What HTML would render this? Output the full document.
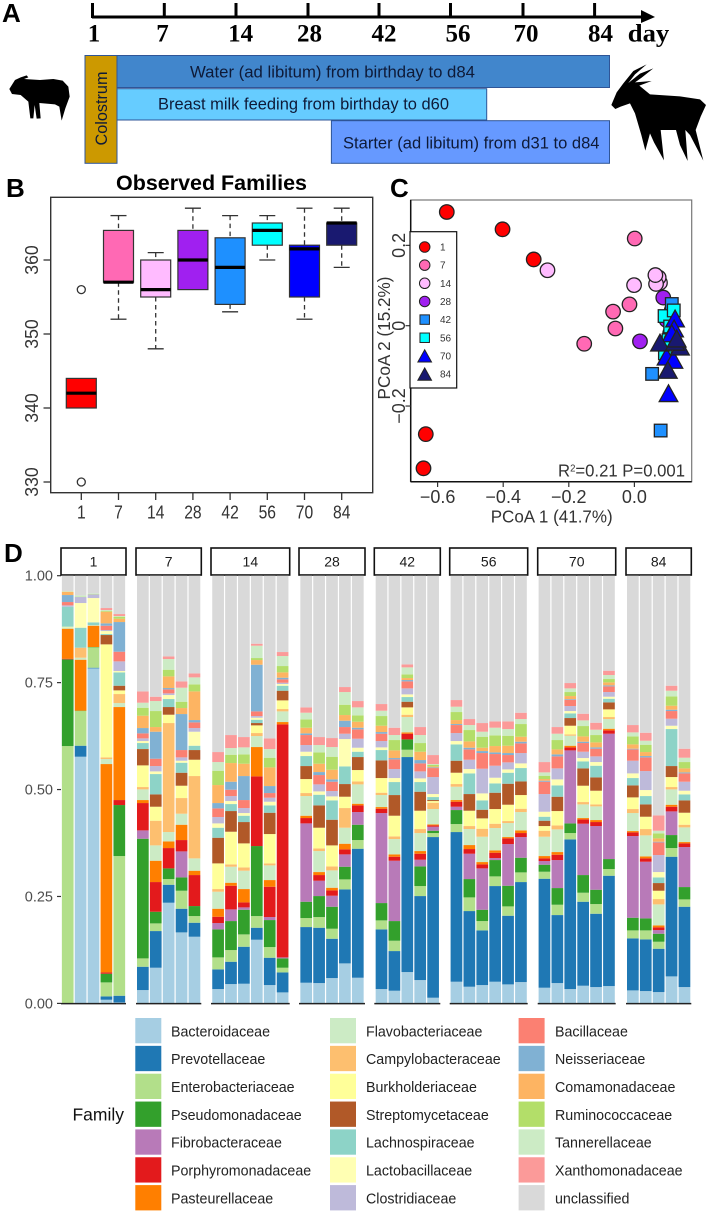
<!DOCTYPE html>
<html lang="en">
<head>
<meta charset="utf-8">
<title>Observed Families figure</title>
<style>
html,body{margin:0;padding:0;background:#fff;}
svg{display:block;}
text{font-family:"Liberation Sans",sans-serif;}
.serif{font-family:"Liberation Serif",serif;font-weight:bold;fill:#000;font-size:25px;text-anchor:middle;}
.panel{font-weight:bold;font-size:26px;fill:#000;}
.feed{font-size:17px;fill:#0e1a38;}
</style>
</head>
<body>
<svg id="fig" xmlns="http://www.w3.org/2000/svg" width="708" height="1212" viewBox="0 0 708 1212">
  <rect x="0" y="0" width="708" height="1212" fill="#fff"/>

  <!-- Panel A -->
  <text class="panel" x="2" y="22">A</text>
  <g>
    <line x1="92" y1="17" x2="643" y2="17" stroke="#000" stroke-width="3"/>
    <polygon points="641,10 655,17 641,23" fill="#000"/>
    <line x1="92.5" y1="3" x2="92.5" y2="18" stroke="#000" stroke-width="3"/>
    <line x1="164.3" y1="3" x2="164.3" y2="18" stroke="#000" stroke-width="3"/>
    <line x1="236" y1="3" x2="236" y2="18" stroke="#000" stroke-width="3"/>
    <line x1="308" y1="3" x2="308" y2="18" stroke="#000" stroke-width="3"/>
    <line x1="379" y1="3" x2="379" y2="18" stroke="#000" stroke-width="3"/>
    <line x1="450.5" y1="3" x2="450.5" y2="18" stroke="#000" stroke-width="3"/>
    <line x1="523" y1="3" x2="523" y2="18" stroke="#000" stroke-width="3"/>
    <line x1="594.6" y1="3" x2="594.6" y2="18" stroke="#000" stroke-width="3"/>
    <text class="serif" x="94" y="41.5">1</text>
    <text class="serif" x="162.5" y="41.5">7</text>
    <text class="serif" x="240.6" y="41.5">14</text>
    <text class="serif" x="309.5" y="41.5">28</text>
    <text class="serif" x="384" y="41.5">42</text>
    <text class="serif" x="458" y="41.5">56</text>
    <text class="serif" x="526" y="41.5">70</text>
    <text class="serif" x="600.5" y="41.5">84</text>
    <text class="serif" x="648.5" y="41.5" textLength="41.5" lengthAdjust="spacingAndGlyphs">day</text>
  </g>
  <g>
    <rect x="117" y="55.5" width="492.5" height="32" fill="#4186cc" stroke="#2f5597" stroke-width="1"/>
    <rect x="117" y="88.7" width="369.7" height="31.3" fill="#66ccff" stroke="#2f5597" stroke-width="1"/>
    <rect x="331.4" y="120.7" width="278.1" height="42.6" fill="#6699ff" stroke="#2f5597" stroke-width="1"/>
    <rect x="85" y="55.5" width="32" height="107.8" fill="#cc9900" stroke="#2f5597" stroke-width="1"/>
    <text class="feed" transform="translate(101.5,108.5) rotate(-90)" text-anchor="middle" dominant-baseline="central" textLength="74" lengthAdjust="spacingAndGlyphs">Colostrum</text>
    <text class="feed" x="190" y="77.5" textLength="285" lengthAdjust="spacingAndGlyphs">Water (ad libitum) from birthday to d84</text>
    <text class="feed" x="158" y="109.5" textLength="291" lengthAdjust="spacingAndGlyphs">Breast milk feeding from birthday to d60</text>
    <text class="feed" x="343" y="148.5" textLength="256.5" lengthAdjust="spacingAndGlyphs">Starter (ad libitum) from d31 to d84</text>
  </g>
  <path transform="translate(0,65) scale(0.3333)" fill="#000" d="M28,72 L45,45 L62,37 L80,31 L85,37 L72,42 L120,45 L160,42 L188,47 L205,65 L209,95 L196,130 L185,167 L178,125 L165,118 L118,114 L122,160 L110,161 L104,120 L100,160 L91,160 L85,110 L62,90 L36,87 Z"/>
  <path transform="translate(600,55) scale(0.3333)" fill="#000" d="M34,150 L50,112 L70,85 L100,48 L140,28 L105,58 L85,84 L120,56 L160,40 L125,68 L105,82 L155,78 L118,92 L150,118 L240,124 L300,133 L318,150 L302,185 L287,225 L310,317 L270,240 L256,225 L263,318 L240,270 L228,225 L182,225 L192,316 L162,262 L150,235 L136,287 L124,240 L105,175 L90,145 L62,155 L46,162 Z"/>

  <!-- Panel B -->
  <text class="panel" x="6" y="197">B</text>
  <text x="116" y="190" font-size="21" font-weight="bold" fill="#000" textLength="191" lengthAdjust="spacingAndGlyphs">Observed Families</text>
  <rect x="50.7" y="197.3" width="322" height="295.4" fill="none" stroke="#333" stroke-width="1.4"/>
  <g id="boxplot"></g>

  <!-- Panel C -->
  <text class="panel" x="390" y="197">C</text>
  <rect x="410.7" y="200" width="281" height="281.7" fill="none" stroke="#777" stroke-width="1.2"/>
  <line x1="410.7" y1="200" x2="410.7" y2="481.7" stroke="#111" stroke-width="1.5"/>
  <line x1="410.7" y1="481.7" x2="691.7" y2="481.7" stroke="#111" stroke-width="1.5"/>
  <g id="pcoa"></g>
  <text x="551.7" y="522.5" text-anchor="middle" font-size="17.5" fill="#333" textLength="122" lengthAdjust="spacingAndGlyphs">PCoA 1 (41.7%)</text>
  <text transform="translate(384,338) rotate(-90)" text-anchor="middle" dominant-baseline="central" font-size="17.5" fill="#333" textLength="123" lengthAdjust="spacingAndGlyphs">PCoA 2 (15.2%)</text>
  <text x="558" y="476.5" font-size="17.5" fill="#333" textLength="127" lengthAdjust="spacingAndGlyphs">R<tspan font-size="10" dy="-5">2</tspan><tspan dy="5">=0.21 P=0.001</tspan></text>
  <g>
    <rect x="410" y="231.7" width="46.7" height="156.3" fill="#fff" stroke="#111" stroke-width="1.2"/>
    <g id="pcoaLegend"></g>
  </g>

  <!-- Panel D -->
  <text class="panel" x="4" y="562">D</text>
  <g id="stack"></g>
  <text x="72.5" y="1120.5" font-size="17.5" fill="#111" textLength="51.5" lengthAdjust="spacingAndGlyphs">Family</text>
  <g id="famLegend"></g>
</svg>
<script>
/* ---------- Panel B data ---------- */
const boxDays = ["1","7","14","28","42","56","70","84"];
const boxLow = [340,352,348,356,353,360,352,359];
const boxQ1 = [340,357,355,356,354,362,355,362];
const boxMedian = [342,357,356,360,359,364,361.5,365];
const boxQ3 = [344,364,360,364,363,365,362,365];
const boxHigh = [344,366,361,367,366,366,367,367];
const boxOutliers = [[356,330],[],[],[],[],[],[],[]];
const boxYTicks = [330,340,350,360];
const dayColors = ["#ff0000","#ff69b4","#ffbbff","#a020f0","#1e90ff","#00ffff","#0000ff","#191970"];

/* ---------- Panel C data ---------- */
const pcoaXTicks = [-0.6,-0.4,-0.2,0.0];
const pcoaXTickLabels = ["\u22120.6","\u22120.4","\u22120.2","0.0"];
const pcoaYTicks = [0.2,0,-0.2];
const pcoaYTickLabels = ["0.2","0","\u22120.2"];
const pcoaX1 = [-0.572,-0.402,-0.307,-0.636,-0.643];
const pcoaY1 = [0.283,0.240,0.165,-0.270,-0.355];
const pcoaX7 = [0.001,-0.015,-0.065,-0.058,-0.153];
const pcoaY7 = [0.217,0.053,0.035,-0.007,-0.045];
const pcoaX14 = [-0.265,-0.001,0.078,0.074,0.066,0.064];
const pcoaY14 = [0.138,0.101,0.107,0.120,0.104,0.126];
const pcoaX28 = [0.088,0.017,0.114,0.098,0.109];
const pcoaY28 = [0.070,-0.039,0.039,0.014,-0.019];
const pcoaX42 = [0.114,0.054,0.080,0.109,0.098];
const pcoaY42 = [0.054,-0.120,-0.261,0.022,-0.044];
const pcoaX56 = [0.092,0.120,0.104,0.093,0.109];
const pcoaY56 = [0.024,0.038,-0.036,-0.069,-0.002];
const pcoaX70 = [0.104,0.124,0.121,0.114,0.098,0.119];
const pcoaY70 = [-0.168,0.018,-0.007,-0.019,-0.077,-0.085];
const pcoaX84 = [0.078,0.102,0.139,0.124,0.129];
const pcoaY84 = [-0.042,-0.110,-0.052,-0.040,-0.032];
const pcoaSeriesX = [pcoaX1,pcoaX7,pcoaX14,pcoaX28,pcoaX42,pcoaX56,pcoaX70,pcoaX84];
const pcoaSeriesY = [pcoaY1,pcoaY7,pcoaY14,pcoaY28,pcoaY42,pcoaY56,pcoaY70,pcoaY84];
const pcoaShapes = ["circle","circle","circle","circle","square","square","triangle","triangle"];

/* ---------- Panel D data ----------
   Readings per sample, bottom to top, in units where abundanceFull = 1.00.
   The grey "unclassified" segment is the remainder. */
const abundanceFull = 1283;
const stackTicks = [0,0.25,0.5,0.75,1];
const stackTickLabels = ["0.00","0.25","0.50","0.75","1.00"];
const families = ["Bacteroidaceae","Prevotellaceae","Enterobacteriaceae","Pseudomonadaceae","Fibrobacteraceae","Porphyromonadaceae","Pasteurellaceae","Flavobacteriaceae","Campylobacteraceae","Burkholderiaceae","Streptomycetaceae","Lachnospiraceae","Lactobacillaceae","Clostridiaceae","Bacillaceae","Neisseriaceae","Comamonadaceae","Ruminococcaceae","Tannerellaceae","Xanthomonadaceae","unclassified"];
const familyColors = ["#a6cee3","#1f78b4","#b2df8a","#33a02c","#b87ab8","#e31a1c","#ff7f00","#ccebc5","#fdbf6f","#ffff99","#b15928","#8dd3c7","#ffffb3","#bebada","#fb8072","#80b1d3","#fdb462","#b3de69","#ccebc5","#fb9a99","#d9d9d9"];
const facetLabels = ["1","7","14","28","42","56","70","84"];
const facet1 = [
 [0,0,772,260,0,2,90,4,0,2,0,60,0,4,10,21,10,0,2,0],
 [740,33,104,1,0,0,153,6,30,0,0,60,74,18,0,0,0,1,4,0],
 [1005,2,61,1,0,0,64,2,0,0,0,8,73,11,0,0,0,1,2,0],
 [11,10,42,26,0,4,625,15,5,339,28,3,9,3,13,7,35,2,3,6],
 [3,20,419,153,0,15,279,12,27,11,14,40,4,29,29,89,10,6,2,6]
];
const facet7 = [
 [40,70,25,359,25,82,9,32,7,65,49,18,6,8,15,16,37,24,15,34],
 [107,110,23,35,0,89,64,46,74,42,37,61,8,16,22,81,14,48,30,13],
 [302,54,17,32,0,61,20,28,327,25,23,24,12,5,12,4,35,20,32,8],
 [213,71,54,40,78,34,46,33,47,37,39,30,6,10,22,108,18,19,42,19],
 [200,42,20,30,0,93,13,37,247,49,29,13,42,11,17,7,86,21,21,12]
];
const facet14 = [
 [43,59,36,84,19,19,24,51,8,77,77,30,13,19,26,16,54,43,26,30],
 [58,67,35,87,35,71,9,48,7,98,62,21,9,15,19,24,56,25,20,39],
 [59,111,37,74,7,15,40,55,10,72,64,19,8,15,24,72,37,28,21,31],
 [191,36,35,210,0,209,88,33,9,23,7,10,6,5,14,140,14,6,37,6],
 [55,82,32,81,9,91,20,44,6,88,64,22,11,12,14,21,56,29,26,32],
 [33,60,14,28,3,699,7,32,7,26,29,15,5,4,10,5,16,19,30,12]
];
const facet28 = [
 [62,167,27,49,235,16,7,59,9,42,39,30,13,20,30,5,17,25,20,16],
 [61,166,32,63,46,17,9,63,8,62,67,32,10,21,28,9,25,34,22,24],
 [76,118,30,66,33,16,8,52,12,63,77,58,12,16,28,7,29,39,29,27],
 [120,222,30,38,37,15,17,48,59,34,38,53,82,16,20,19,17,31,38,15],
 [77,387,26,46,38,20,5,58,9,34,39,16,12,27,28,5,18,19,24,19]
];
const facet42 = [
 [43,179,27,52,270,13,5,36,7,44,53,31,8,19,22,5,19,29,16,20],
 [38,119,31,59,181,12,7,46,8,62,62,39,12,27,29,4,23,31,15,22],
 [94,645,22,31,0,17,4,46,7,22,17,14,8,18,21,4,6,11,21,9],
 [70,252,30,59,20,18,8,54,12,55,57,29,11,21,24,10,25,26,24,24],
 [17,482,12,7,12,4,3,46,19,5,3,9,9,51,27,2,3,5,2,27]
];
const facet56 = [
 [65,449,24,42,10,15,5,40,8,34,36,49,10,24,24,3,12,24,16,20],
 [50,227,41,55,76,14,12,48,9,46,50,62,13,28,31,5,19,34,15,18],
 [55,164,28,34,124,12,7,76,24,31,26,28,21,74,47,6,10,33,15,26],
 [65,287,29,49,6,16,7,67,13,44,49,28,17,36,35,5,19,32,23,19],
 [57,206,28,62,125,17,4,42,6,49,63,33,10,21,22,6,22,30,20,23],
 [64,300,29,44,62,12,8,55,10,41,41,40,14,31,29,5,15,38,15,19]
];
const facet70 = [
 [47,327,21,21,11,8,7,58,18,14,16,12,15,53,37,3,5,10,10,31],
 [61,204,31,50,84,16,8,68,12,43,43,34,18,33,36,6,15,28,19,20],
 [43,449,19,29,219,9,5,30,4,26,23,14,7,15,19,2,9,12,11,16],
 [53,252,27,53,154,13,4,41,7,49,52,21,10,19,26,4,16,31,17,20],
 [49,220,29,43,191,12,6,41,6,41,40,35,11,17,23,4,15,22,16,21],
 [52,331,20,30,376,10,5,29,6,23,21,11,6,14,17,3,9,10,12,13]
];
const facet84 = [
 [39,156,24,38,245,11,4,54,12,35,36,22,14,38,34,2,13,24,12,22],
 [37,155,27,36,170,10,6,63,19,37,37,25,18,57,41,4,12,22,12,24],
 [34,130,21,24,11,8,6,63,16,25,23,17,16,51,38,2,10,15,8,46],
 [81,359,26,39,71,14,6,46,7,30,33,111,10,21,23,4,12,28,17,15],
 [49,241,22,37,120,11,4,44,8,36,37,18,11,27,25,3,12,19,13,27]
];
const facetSamples = [facet1,facet7,facet14,facet28,facet42,facet56,facet70,facet84];

/* ---------- helpers ---------- */
const NS = "http://www.w3.org/2000/svg";
function mk(parent, tag, attrs, txt){
  const el = document.createElementNS(NS, tag);
  for (const k in attrs) el.setAttribute(k, attrs[k]);
  if (txt !== undefined) el.textContent = txt;
  parent.appendChild(el);
  return el;
}

/* ---------- Panel B ---------- */
const boxG = document.getElementById("boxplot");
const boxY = v => 260 + (360 - v) * 7.4;
const boxX = i => 81.3 + i * 37.2;
boxYTicks.forEach(function(t){
  const tk = mk(boxG, "line", {x1:43.5, x2:50.7, y1:boxY(t), y2:boxY(t), stroke:"#333", "stroke-width":1.3});
  
  
  const lb = mk(boxG, "text", {transform:"translate(32,"+boxY(t)+") rotate(-90)", "text-anchor":"middle", "dominant-baseline":"central", "font-size":18, fill:"#333", textLength:29.5, lengthAdjust:"spacingAndGlyphs"}, String(t));
  
  
});
boxDays.forEach(function(d,i){
  const x = boxX(i), hw = 15;
  const tk = mk(boxG, "line", {x1:x, x2:x, y1:492.7, y2:500, stroke:"#333", "stroke-width":1.3});
  
  
  const lb = mk(boxG, "text", {x:x, y:518.5, "text-anchor":"middle", "font-size":18, fill:"#333", textLength:d.length*8.7, lengthAdjust:"spacingAndGlyphs"}, d);
  
  
  const w1 = mk(boxG, "line", {x1:x, x2:x, y1:boxY(boxHigh[i]), y2:boxY(boxQ3[i]), stroke:"#333", "stroke-width":1.3, "stroke-dasharray":"4.5,3.5"});
  
  
  const w2 = mk(boxG, "line", {x1:x, x2:x, y1:boxY(boxQ1[i]), y2:boxY(boxLow[i]), stroke:"#333", "stroke-width":1.3, "stroke-dasharray":"4.5,3.5"});
  
  
  if (boxHigh[i] > boxQ3[i]) {
    const c1 = mk(boxG, "line", {x1:x-8, x2:x+8, y1:boxY(boxHigh[i]), y2:boxY(boxHigh[i]), stroke:"#333", "stroke-width":1.3});
    
    
  }
  if (boxLow[i] < boxQ1[i]) {
    const c2 = mk(boxG, "line", {x1:x-8, x2:x+8, y1:boxY(boxLow[i]), y2:boxY(boxLow[i]), stroke:"#333", "stroke-width":1.3});
    
    
  }
  const b = mk(boxG, "rect", {x:x-hw, y:boxY(boxQ3[i]), width:2*hw, height:boxY(boxQ1[i])-boxY(boxQ3[i]), fill:dayColors[i], stroke:"#333", "stroke-width":1.2});
  
  
  const m = mk(boxG, "line", {x1:x-hw, x2:x+hw, y1:boxY(boxMedian[i]), y2:boxY(boxMedian[i]), stroke:"#000", "stroke-width":3.2});
  
  
  boxOutliers[i].forEach(function(o){
    const c = mk(boxG, "circle", {cx:x, cy:boxY(o), r:4, fill:"none", stroke:"#333", "stroke-width":1.3});
    
    
  });
});

/* ---------- Panel C ---------- */
const pG = document.getElementById("pcoa");
const pX = v => 634.4 + v * 328;
const pY = v => 325.7 - v * 401.7;
function marker(parent, shape, x, y, size, color, stroke){
  if (shape === "circle") return mk(parent, "circle", {cx:x, cy:y, r:size/2, fill:color, stroke:"#222", "stroke-width":stroke});
  if (shape === "square") return mk(parent, "rect", {x:x-size*0.45, y:y-size*0.45, width:size*0.9, height:size*0.9, fill:color, stroke:"#222", "stroke-width":stroke});
  const w = size*0.62, h = size*0.56;
  return mk(parent, "polygon", {points:(x-w)+","+(y+h)+" "+(x+w)+","+(y+h)+" "+x+","+(y-h), fill:color, stroke:"#222", "stroke-width":stroke});
}
pcoaXTicks.forEach(function(t,i){
  const tk = mk(pG, "line", {x1:pX(t), x2:pX(t), y1:481.7, y2:487, stroke:"#333", "stroke-width":1.2});
  
  
  const lb = mk(pG, "text", {x:pX(t), y:503, "text-anchor":"middle", "font-size":18, fill:"#333"}, pcoaXTickLabels[i]);
  
  
});
pcoaYTicks.forEach(function(t,i){
  const tk = mk(pG, "line", {x1:405.5, x2:410.7, y1:pY(t), y2:pY(t), stroke:"#333", "stroke-width":1.2});
  
  
  const lb = mk(pG, "text", {transform:"translate(399,"+pY(t)+") rotate(-90)", "text-anchor":"middle", "dominant-baseline":"central", "font-size":18, fill:"#333"}, pcoaYTickLabels[i]);
  
  
});
pcoaSeriesX.forEach(function(xs,s){
  xs.forEach(function(xv,i){
    const size = pcoaShapes[s] === "circle" ? 14.5 : (pcoaShapes[s] === "square" ? 14 : 15);
    const m = marker(pG, pcoaShapes[s], pX(xv), pY(pcoaSeriesY[s][i]), size, dayColors[s], 1.3);
    
    
  });
});
const pL = document.getElementById("pcoaLegend");
boxDays.forEach(function(d,i){
  const y = 247 + i * 18.15;
  const size = pcoaShapes[i] === "triangle" ? 11 : 10.5;
  const m = marker(pL, pcoaShapes[i], 424.7, y, size, dayColors[i], 1);
  
  
  const t = mk(pL, "text", {x:440, y:y+3.5, "font-size":10, fill:"#333"}, d);
  
  
});

/* ---------- Panel D ---------- */
const sG = document.getElementById("stack");
const facetLeft = [61,136,211,299,374.3,449.7,537.7,626];
const facetWidth = [65,65.3,78.7,66,66,78,78,65.3];
const barStep = 12.9, barW = 11.7;
const sY = v => 1003.4 - v * 427.7;
const sX = (f,i) => facetLeft[f] + (facetWidth[f] - (facetSamples[f].length - 1) * barStep) / 2 + i * barStep;
stackTicks.forEach(function(t,i){
  const tk = mk(sG, "line", {x1:57, x2:61, y1:sY(t), y2:sY(t), stroke:"#333", "stroke-width":1.2});
  
  
  const lb = mk(sG, "text", {x:53, y:sY(t)+5, "text-anchor":"end", "font-size":14.5, fill:"#4d4d4d"}, stackTickLabels[i]);
  
  
});
facetSamples.forEach(function(samples,f){
  const st = mk(sG, "rect", {x:facetLeft[f], y:548, width:facetWidth[f], height:27, fill:"#fff", stroke:"#111", "stroke-width":1.6});
  
  
  const sl = mk(sG, "text", {x:facetLeft[f]+facetWidth[f]/2, y:566.5, "text-anchor":"middle", "font-size":14, fill:"#1a1a1a"}, facetLabels[f]);
  
  
  samples.forEach(function(vals,i){
    const cx = sX(f,i);
    let sum = 0;
    vals.forEach(function(v,k){
      if (v <= 0) return;
      const lo = sum / abundanceFull, hi = (sum + v) / abundanceFull;
      const r = mk(sG, "rect", {x:cx-barW/2, y:sY(hi), width:barW, height:sY(lo)-sY(hi), fill:familyColors[k]});
      
      
      sum += v;
    });
    const top = sum / abundanceFull;
    const g = mk(sG, "rect", {x:cx-barW/2, y:sY(1), width:barW, height:Math.max(0, sY(top)-sY(1)), fill:familyColors[20]});
    
    
  });
  const ax = mk(sG, "line", {x1:facetLeft[f], x2:facetLeft[f]+facetWidth[f], y1:1003.6, y2:1003.6, stroke:"#222", "stroke-width":1.5});
  
  
});

/* ---------- family legend ---------- */
const fL = document.getElementById("famLegend");
const legKeyX = [135.3,330,518.6];
const legTxtX = [171,366,555];
families.forEach(function(name,i){
  const col = Math.floor(i/7), row = i%7;
  const y = 1018 + row * 27.85;
  const k = mk(fL, "rect", {x:legKeyX[col], y:y, width:26, height:25.3, fill:familyColors[i]});
  
  
  const t = mk(fL, "text", {x:legTxtX[col], y:y+18.3, "font-size":15, fill:"#222"}, name);
  
  
  t.setAttribute('textLength', (t.getComputedTextLength() * 0.95).toFixed(1));
  t.setAttribute('lengthAdjust', 'spacingAndGlyphs');
});
</script>
</body>
</html>
